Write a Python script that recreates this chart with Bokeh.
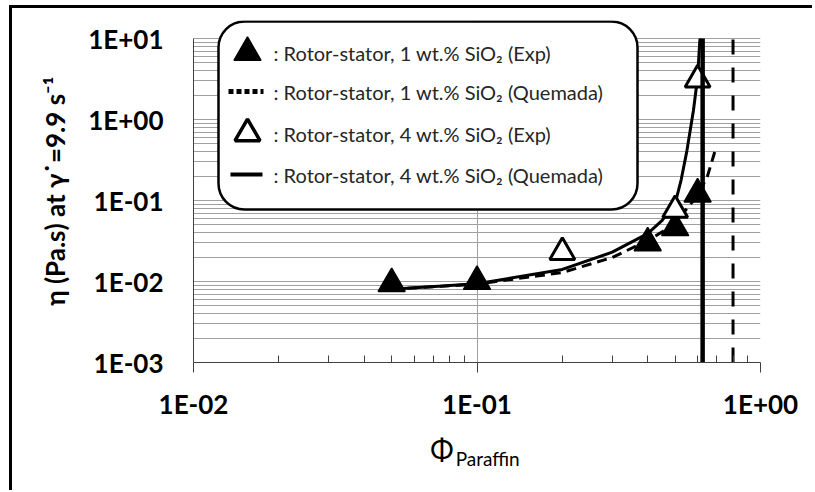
import math
from bokeh.plotting import figure
from bokeh.models import (FixedTicker, CustomJSTickFormatter, Label,
                          BoxAnnotation, Range1d, LogAxis)
from bokeh.embed import file_html
from bokeh.resources import INLINE

# ---------------- data ----------------
phi_1wt_exp = [0.05, 0.1, 0.4, 0.5, 0.6]
eta_1wt_exp = [0.0094, 0.0100, 0.030, 0.046, 0.120]

phi_4wt_exp = [0.2, 0.5, 0.6]
eta_4wt_exp = [0.023, 0.076, 3.1]

phi_1wt_quemada = [0.05, 0.1, 0.2, 0.3, 0.4, 0.45, 0.5, 0.6, 0.65, 0.69]
eta_1wt_quemada = [0.0080, 0.0093, 0.0129, 0.0198, 0.032, 0.041, 0.053, 0.115, 0.20, 0.40]

phi_4wt_quemada = [0.05, 0.1, 0.2, 0.3, 0.4, 0.45, 0.5, 0.525, 0.55, 0.58, 0.6, 0.61, 0.612]
eta_4wt_quemada = [0.0080, 0.0094, 0.0141, 0.023, 0.039, 0.057, 0.092, 0.18, 0.41, 1.29, 3.3, 8.7, 10.0]

phi_max_1wt = 0.8
phi_max_4wt = 0.625

x_ticks = [0.01, 0.1, 1.0]
x_tick_labels = ["1E-02", "1E-01", "1E+00"]
y_ticks = [0.001, 0.01, 0.1, 1.0, 10.0]
y_tick_labels = ["1E-03", "1E-02", "1E-01", "1E+00", "1E+01"]

legend_labels = [
    ": Rotor-stator, 1 wt.% SiO\u2082 (Exp)",
    ": Rotor-stator, 1 wt.% SiO\u2082 (Quemada)",
    ": Rotor-stator, 4 wt.% SiO\u2082 (Exp)",
    ": Rotor-stator, 4 wt.% SiO\u2082 (Quemada)",
]

y_label = "\u03b7 (Pa.s) at \u03b3\u02d9=9.9 s\u207b\u00b9"
x_label_main = "\u03a6"
x_label_sub = "Paraffin"

# ---------------- layout helpers (page pixel -> data) ----------------
ORIGIN_X, ORIGIN_Y = 12, 8            # canvas origin on the page
FRAME_L, FRAME_R = 193, 760           # page x of 1E-02 and 1E+00
AX_T, AX_B = 38, 362                  # page y of 1E+01 and 1E-03
FRAME_T = 20                          # frame top (legend box top)
DEC_X = (FRAME_R - FRAME_L) / 2.0
DEC_Y = (AX_B - AX_T) / 4.0


def px_x(px):
    return 10 ** (-2 + (px - FRAME_L) / DEC_X)


def px_y(py):
    return 10 ** (1 - (py - AX_T) / DEC_Y)


def minor_list(decades):
    return [m * 10.0 ** d for d in decades for m in range(2, 10)]


FONT = "Lato"

p = figure(frame_width=FRAME_R - FRAME_L, frame_height=AX_B - FRAME_T,
           x_axis_type="log", y_axis_type="log",
           x_range=Range1d(x_ticks[0], x_ticks[-1]),
           y_range=Range1d(y_ticks[0], px_y(FRAME_T)),
           output_backend="svg", toolbar_location=None,
           min_border_left=FRAME_L - ORIGIN_X, min_border_right=52,
           min_border_top=FRAME_T - ORIGIN_Y, min_border_bottom=128)
p.styles = {"margin-left": "9px", "margin-top": "5px",
            "border-left": "3px solid black", "border-top": "3px solid black"}
p.outline_line_color = None
p.background_fill_color = "white"
p.border_fill_color = "white"

fmt_code = """
let best = 0, bd = 1e9;
for (let k = 0; k < tv.length; k++) {
  const d = Math.abs(Math.log10(tv[k] / tick));
  if (d < bd) { bd = d; best = k; }
}
return lab[best];
"""

xa = p.xaxis[0]
xa.ticker = FixedTicker(ticks=x_ticks, minor_ticks=minor_list([-2, -1]))
xa.formatter = CustomJSTickFormatter(args=dict(tv=x_ticks, lab=x_tick_labels), code=fmt_code)
xa.major_tick_in = 0
xa.major_tick_out = 10
xa.minor_tick_in = 7
xa.minor_tick_out = 0
for attr in ("axis_line_color", "major_tick_line_color", "minor_tick_line_color"):
    setattr(xa, attr, "#404040")
xa.major_label_text_font = FONT
xa.major_label_text_font_style = "bold"
xa.major_label_text_font_size = "26px"
xa.major_label_text_color = "black"
xa.major_label_standoff = 15
xa.axis_label = x_label_main + "\u2002" * 5
xa.axis_label_text_font = FONT
xa.axis_label_text_font_style = "normal"
xa.axis_label_text_font_size = "28px"
xa.axis_label_text_color = "black"
xa.axis_label_standoff = 9

# second (tick-less) axis only carries the subscript of the x title
sub_axis = LogAxis(ticker=FixedTicker(ticks=[]), axis_line_color=None,
                   major_tick_line_color=None, minor_tick_line_color=None,
                   major_tick_out=0, major_tick_in=0, minor_tick_out=0, minor_tick_in=0,
                   major_label_standoff=0, major_label_text_font_size="1px",
                   axis_label="\u2002\u2002\u2009" + x_label_sub, axis_label_text_font=FONT,
                   axis_label_text_font_style="normal", axis_label_text_font_size="19px",
                   axis_label_text_color="black", axis_label_standoff=-22)
p.add_layout(sub_axis, "below")

ya = p.yaxis[0]
ya.ticker = FixedTicker(ticks=y_ticks, minor_ticks=minor_list([-3, -2, -1, 0]))
ya.formatter = CustomJSTickFormatter(args=dict(tv=y_ticks, lab=y_tick_labels), code=fmt_code)
ya.bounds = (y_ticks[0], y_ticks[-1])
ya.major_tick_in = 0
ya.major_tick_out = 0
ya.minor_tick_in = 0
ya.minor_tick_out = 0
ya.axis_line_color = "#404040"
ya.major_label_text_font = FONT
ya.major_label_text_font_style = "bold"
ya.major_label_text_font_size = "26px"
ya.major_label_text_color = "black"
ya.major_label_standoff = 30
ya.axis_label = y_label
ya.axis_label_text_font = FONT
ya.axis_label_text_font_style = "bold"
ya.axis_label_text_font_size = "26px"
ya.axis_label_text_color = "black"
ya.axis_label_standoff = 14

p.xgrid.grid_line_color = "#a0a0a0"
p.xgrid.minor_grid_line_color = None
p.ygrid.grid_line_color = "#a0a0a0"
p.ygrid.minor_grid_line_color = "#a0a0a0"

# blank strip above 1E+01 (the frame is taller only to hold the legend box)
p.add_layout(BoxAnnotation(bottom=y_ticks[-1] * 1.03, fill_color="white", fill_alpha=1.0,
                           line_color=None, level="underlay"))

# ---------------- legend box ----------------
box_kw = dict(left=px_x(218), right=px_x(637), top=px_y(21), bottom=px_y(209),
              fill_color="white", fill_alpha=1.0, line_color="black",
              line_width=2.5, line_alpha=1.0, level="underlay")
if "border_radius" in BoxAnnotation.properties():
    box_kw["border_radius"] = 26
p.add_layout(BoxAnnotation(**box_kw))

# ---------------- data marks ----------------
p.line(phi_1wt_quemada, eta_1wt_quemada, line_color="black", line_width=3, line_dash="10 6")
p.line(phi_4wt_quemada, eta_4wt_quemada, line_color="black", line_width=3)
p.scatter(phi_1wt_exp, eta_1wt_exp, marker="triangle", size=27,
          fill_color="black", line_color="black", line_width=1.5)
p.scatter(phi_4wt_exp, eta_4wt_exp, marker="triangle", size=25,
          fill_color="white", line_color="black", line_width=3)
p.segment(x0=[phi_max_4wt], y0=[y_ticks[0]], x1=[phi_max_4wt], y1=[y_ticks[-1]],
          line_color="black", line_width=4.5)
p.segment(x0=[phi_max_1wt], y0=[y_ticks[0]], x1=[phi_max_1wt], y1=[y_ticks[-1]],
          line_color="black", line_width=3, line_dash="15 13")

# ---------------- legend entries ----------------
rows = [52, 91, 133, 174]
gx = px_x(247)
p.scatter([gx], [px_y(rows[0])], marker="triangle", size=27,
          fill_color="black", line_color="black", line_width=1.5)
p.line([px_x(228), px_x(263)], [px_y(rows[1])] * 2, line_color="black",
       line_width=5, line_dash="5 3")
p.scatter([gx], [px_y(rows[2])], marker="triangle", size=25,
          fill_color="white", line_color="black", line_width=3.5)
p.line([px_x(230), px_x(262)], [px_y(rows[3])] * 2, line_color="black", line_width=4)
for r, txt in zip(rows, legend_labels):
    p.add_layout(Label(x=px_x(273), y=px_y(r), text=txt, text_font=FONT,
                       text_font_size="20px", text_baseline="middle",
                       text_align="left", text_color="#262626"))

open("out.html", "w").write(file_html(p, INLINE))
